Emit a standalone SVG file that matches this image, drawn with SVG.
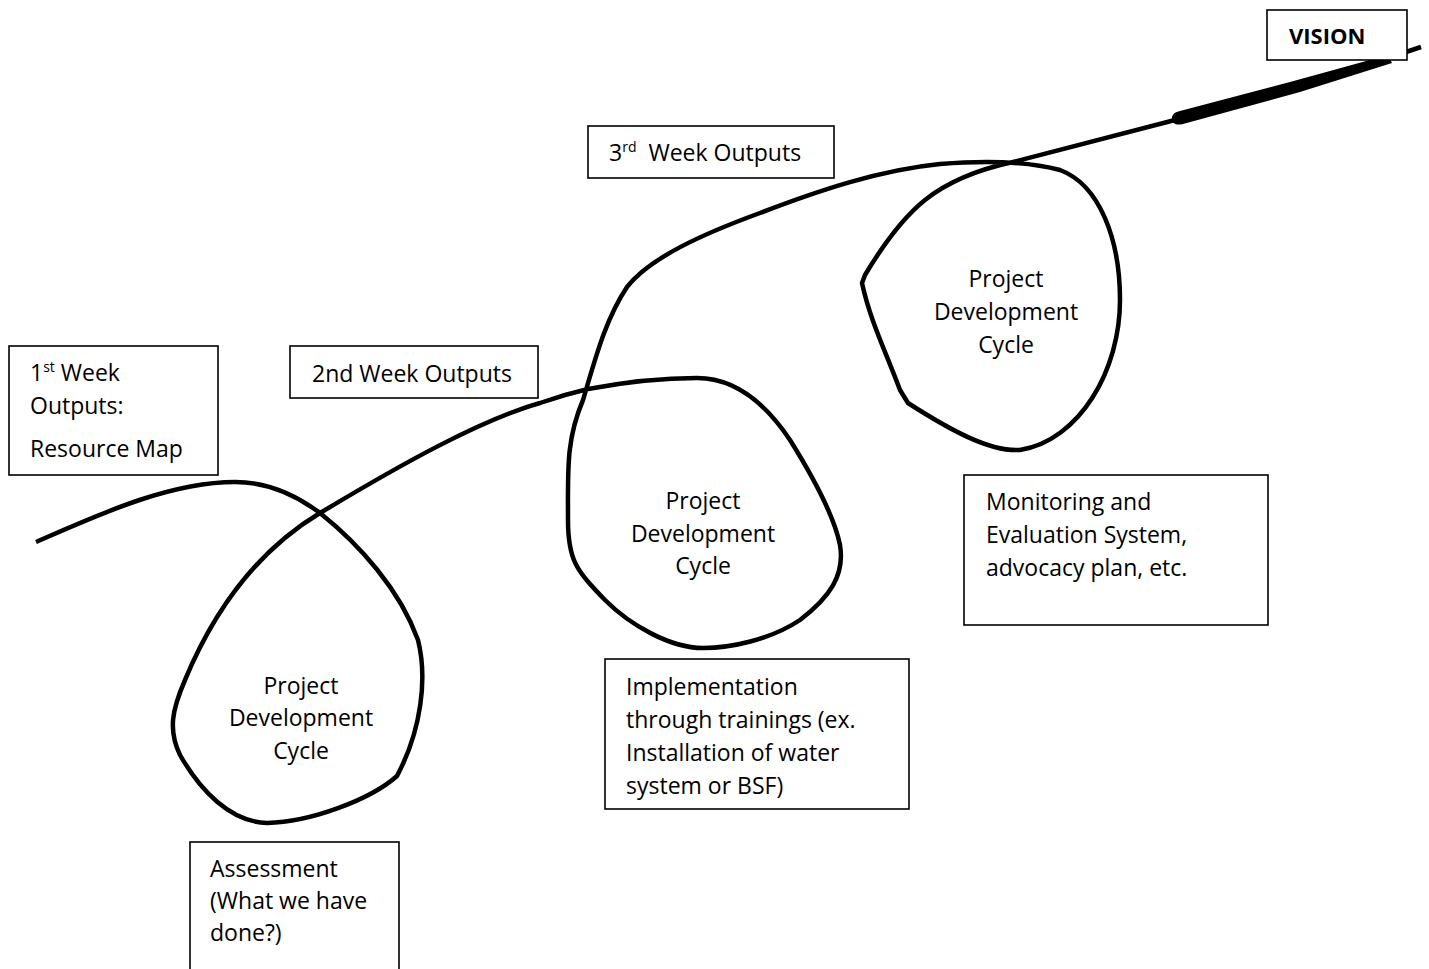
<svg xmlns="http://www.w3.org/2000/svg" width="1429" height="969" viewBox="0 0 1429 969">
  <style>
    .box { fill: #ffffff; stroke: #000000; stroke-width: 1.6; }
    .txt { font-family: "Open Sans", "Liberation Sans", sans-serif; font-size: 23px; fill: #000000; }
    .mid { text-anchor: middle; }
    .sup { font-size: 14px; }
    .bold { font-weight: bold; font-size: 22px; }
    .curve { fill: none; stroke: #000000; stroke-width: 4.5; stroke-linecap: butt; stroke-linejoin: round; }
  </style>

  <rect width="1429" height="969" fill="#ffffff"/>

  <!-- the path that loops through the three cycles up to the vision -->
  <g id="connectors">
    <path class="curve" d="M36,542
      C100,514 170,482 235,482
      C270,482 300,498 320,513
      C360,545 400,590 418,640
      C428,680 420,730 400,770
      L397,776
      C370,800 310,822 267,823
      C230,822 200,790 180,755
      C168,730 172,710 185,680
      C210,620 250,555 320,513
      C400,465 480,420 540,403
      C560,396 575,392 588,389
      C620,383 660,378 697,378
      C740,378 770,410 790,440
      C815,480 835,520 840,545
      C845,575 830,597 800,620
      C770,640 730,648 703,648
      C670,648 630,625 605,600
      C576,570 568,560 568,520
      C568,470 566,440 583,400
      C595,360 605,320 627,287
      C650,258 700,235 760,213
      C820,190 880,170 940,164
      C990,160 1030,162 1060,170
      C1100,185 1120,240 1120,300
      C1120,370 1080,440 1020,450
      C990,452 950,430 908,403
      L900,390
      C885,350 870,320 862,283
      L865,275
      C880,250 900,220 925,200
      C950,180 985,168 1013,162
      L1175,120
      L1390,58"/>
    <!-- heavier stroke on the last stretch toward the vision -->
    <path d="M1172,117 C1171,123 1176,126 1183,124 L1300,92 L1392,63 L1388,55 L1290,82 L1180,111 C1175,112 1173,114 1172,117 Z" fill="#000000"/>
    <path class="curve" d="M1388,58 L1421,47" stroke-linecap="round" stroke-width="5"/>
  </g>

  <g id="node-week1">
    <rect class="box" x="9" y="346" width="209" height="129"/>
    <text class="txt" x="30" y="381">1<tspan class="sup" dy="-9">st</tspan><tspan dy="9"> Week</tspan></text>
    <text class="txt" x="30" y="414">Outputs:</text>
    <text class="txt" x="30" y="457">Resource Map</text>
  </g>

  <g id="node-week2">
    <rect class="box" x="290" y="346" width="248" height="52"/>
    <text class="txt" x="312" y="382">2nd Week Outputs</text>
  </g>

  <g id="node-week3">
    <rect class="box" x="588" y="126" width="246" height="52"/>
    <text class="txt" x="609" y="161">3<tspan class="sup" dy="-9">rd</tspan><tspan dx="12" dy="9">Week Outputs</tspan></text>
  </g>

  <g id="node-vision">
    <rect class="box" x="1267" y="10" width="140" height="50"/>
    <text class="txt bold" x="1289" y="44">VISION</text>
  </g>

  <g id="node-cycle1">
    <text class="txt mid" x="301" y="694">Project</text>
    <text class="txt mid" x="301" y="726">Development</text>
    <text class="txt mid" x="301" y="759">Cycle</text>
  </g>

  <g id="node-cycle2">
    <text class="txt mid" x="703" y="509">Project</text>
    <text class="txt mid" x="703" y="542">Development</text>
    <text class="txt mid" x="703" y="574">Cycle</text>
  </g>

  <g id="node-cycle3">
    <text class="txt mid" x="1006" y="287">Project</text>
    <text class="txt mid" x="1006" y="320">Development</text>
    <text class="txt mid" x="1006" y="353">Cycle</text>
  </g>

  <g id="node-monitoring">
    <rect class="box" x="964" y="475" width="304" height="150"/>
    <text class="txt" x="986" y="510">Monitoring and</text>
    <text class="txt" x="986" y="543">Evaluation System,</text>
    <text class="txt" x="986" y="576">advocacy plan, etc.</text>
  </g>

  <g id="node-implementation">
    <rect class="box" x="605" y="659" width="304" height="150"/>
    <text class="txt" x="626" y="695">Implementation</text>
    <text class="txt" x="626" y="728">through trainings (ex.</text>
    <text class="txt" x="626" y="761">Installation of water</text>
    <text class="txt" x="626" y="794">system or BSF)</text>
  </g>

  <g id="node-assessment">
    <rect class="box" x="190" y="842" width="209" height="160"/>
    <text class="txt" x="210" y="877">Assessment</text>
    <text class="txt" x="210" y="909">(What we have</text>
    <text class="txt" x="210" y="941">done?)</text>
  </g>
</svg>
